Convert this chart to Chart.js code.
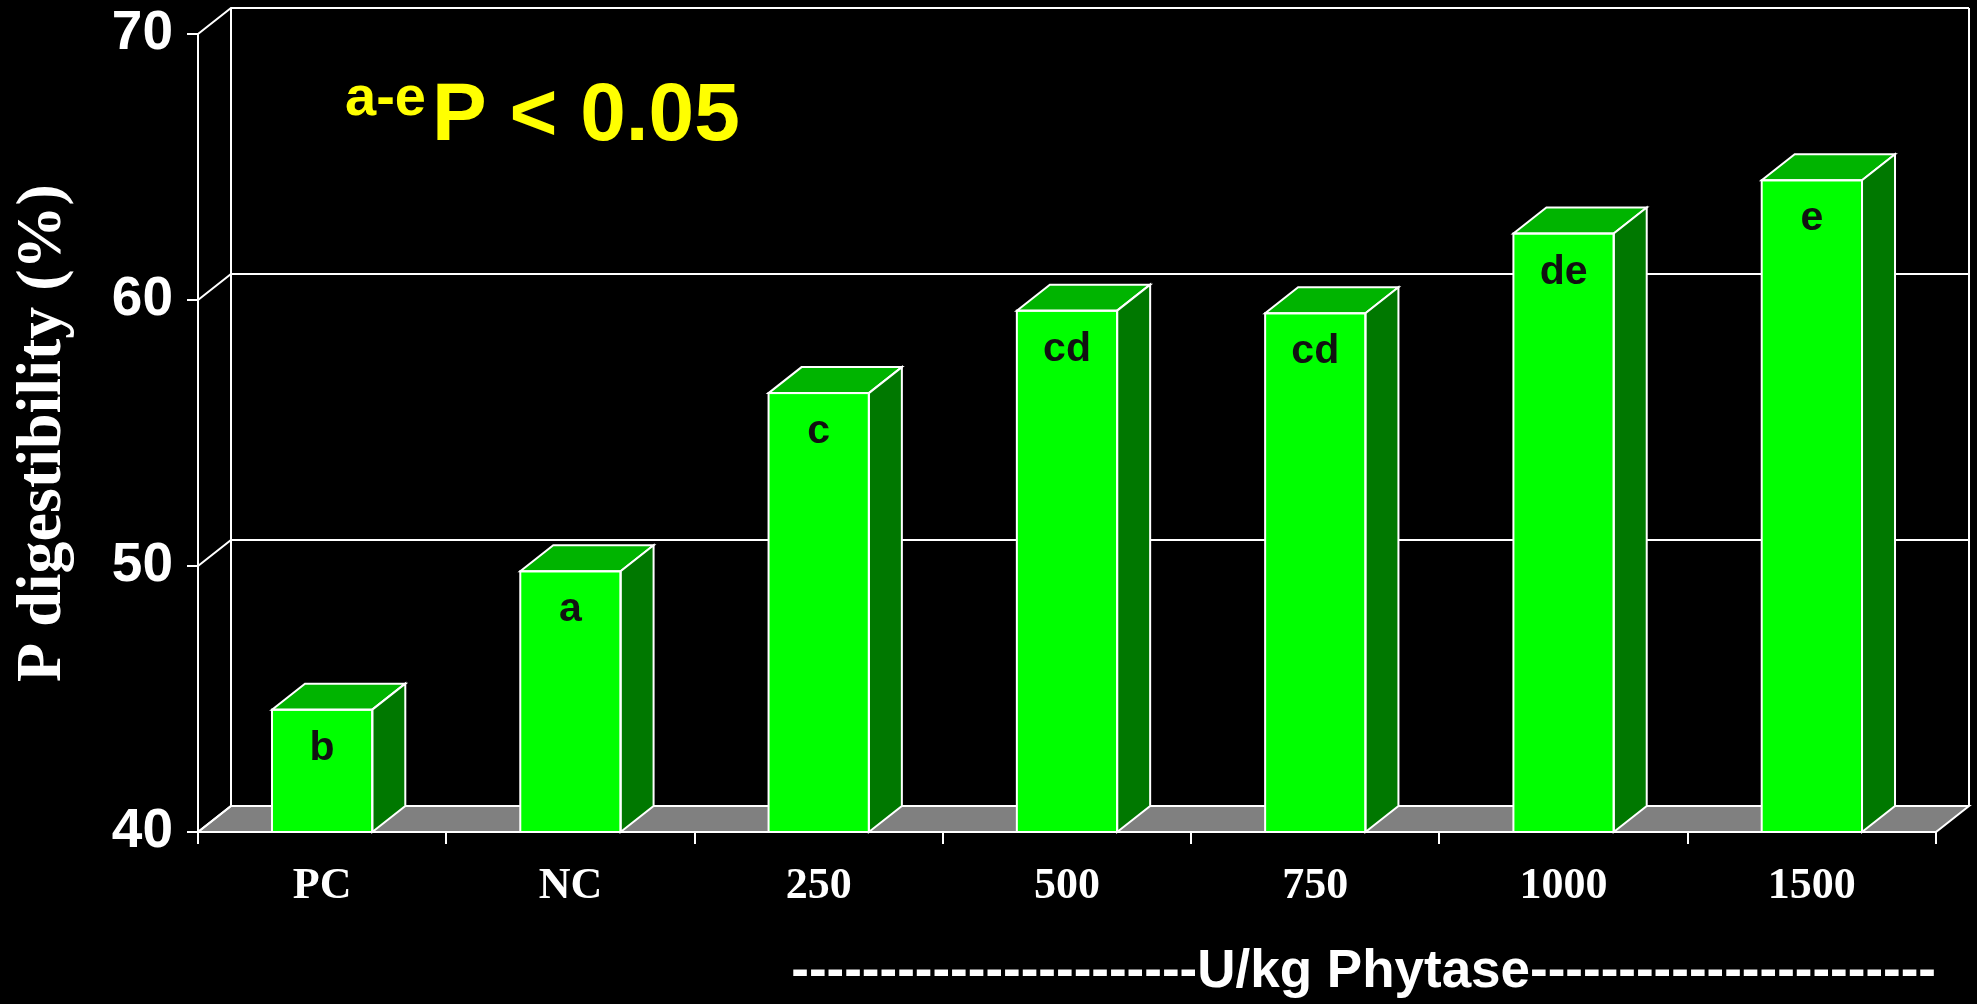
<!DOCTYPE html>
<html><head><meta charset="utf-8">
<script src="https://cdn.jsdelivr.net/npm/chart.js@4.4.1/dist/chart.umd.min.js"></script>
<style>html,body{margin:0;padding:0;background:#000;overflow:hidden}canvas{display:block;background:#000}</style>
</head><body>
<canvas id="c" width="1977" height="1004"></canvas>
<script>
const categories = ['PC', 'NC', '250', '500', '750', '1000', '1500'];
const digestibility = [44.6, 49.8, 56.5, 59.6, 59.5, 62.5, 64.5];
const significance = ['b', 'a', 'c', 'cd', 'cd', 'de', 'e'];
const yTicks = [40, 50, 60, 70];
const yTitle = 'P digestibility (%)';
const xTitle = '-'.repeat(23) + 'U/kg Phytase' + '-'.repeat(23);
const noteSup = 'a-e';
const noteMain = 'P < 0.05';

const DX = 33, DY = 26;

const threeD = {
  id: 'threeD',
  beforeDatasetsDraw(chart) {
    const {ctx, chartArea: a, scales: {y}} = chart;
    const yb = y.getPixelForValue(y.min);
    const yt = y.getPixelForValue(y.max);
    ctx.save();
    ctx.fillStyle = '#808080';
    ctx.strokeStyle = '#ffffff';
    ctx.lineWidth = 2;
    ctx.beginPath();
    ctx.moveTo(a.left, yb); ctx.lineTo(a.right, yb);
    ctx.lineTo(a.right + DX, yb - DY); ctx.lineTo(a.left + DX, yb - DY);
    ctx.closePath(); ctx.fill(); ctx.stroke();
    y.ticks.forEach(t => {
      const py = y.getPixelForValue(t.value);
      ctx.beginPath();
      ctx.moveTo(a.left, py); ctx.lineTo(a.left + DX, py - DY); ctx.lineTo(a.right + DX, py - DY);
      ctx.stroke();
    });
    ctx.beginPath();
    ctx.moveTo(a.left + DX, yt - DY); ctx.lineTo(a.left + DX, yb - DY);
    ctx.moveTo(a.right + DX, yt - DY); ctx.lineTo(a.right + DX, yb - DY);
    ctx.moveTo(a.left, yt); ctx.lineTo(a.left, yb);
    ctx.stroke();
    ctx.restore();
  },
  afterDatasetsDraw(chart) {
    const {ctx, scales: {y: ys}} = chart;
    const floor = ys.getPixelForValue(ys.min);
    const meta = chart.getDatasetMeta(0);
    ctx.save();
    ctx.strokeStyle = '#ffffff';
    ctx.lineWidth = 2;
    ctx.lineJoin = 'miter';
    meta.data.forEach((bar, i) => {
      const {x, y, width} = bar.getProps(['x', 'y', 'width'], true);
      const base = floor;
      const l = x - width / 2, r = x + width / 2;
      ctx.fillStyle = '#00b400';
      ctx.beginPath();
      ctx.moveTo(l, y); ctx.lineTo(r, y); ctx.lineTo(r + DX, y - DY); ctx.lineTo(l + DX, y - DY);
      ctx.closePath(); ctx.fill(); ctx.stroke();
      ctx.fillStyle = '#007800';
      ctx.beginPath();
      ctx.moveTo(r, y); ctx.lineTo(r + DX, y - DY); ctx.lineTo(r + DX, base - DY); ctx.lineTo(r, base);
      ctx.closePath(); ctx.fill(); ctx.stroke();
      ctx.strokeRect(l, y, width, base - y);
      ctx.fillStyle = '#111111';
      ctx.font = 'bold 41px "Liberation Sans", Arial, sans-serif';
      ctx.textAlign = 'center';
      ctx.textBaseline = 'alphabetic';
      ctx.fillText(significance[i], x, y + 50);
    });
    ctx.restore();
  },
  afterDraw(chart) {
    const {ctx} = chart;
    ctx.save();
    ctx.fillStyle = '#ffff00';
    ctx.textAlign = 'left';
    ctx.textBaseline = 'alphabetic';
    ctx.font = 'bold 56px "Liberation Sans", Arial, sans-serif';
    ctx.fillText(noteSup, 345, 115);
    ctx.font = 'bold 82px "Liberation Sans", Arial, sans-serif';
    ctx.fillText(noteMain, 432, 140);
    ctx.restore();
  }
};

new Chart(document.getElementById('c').getContext('2d'), {
  type: 'bar',
  data: {
    labels: categories,
    datasets: [{
      data: digestibility,
      base: 40,
      backgroundColor: '#00ff00',
      borderColor: '#ffffff',
      borderWidth: 0,
      barPercentage: 0.404,
      categoryPercentage: 1
    }]
  },
  options: {
    responsive: false,
    animation: false,
    devicePixelRatio: 1,
    layout: {padding: {left: 0, right: 41, top: 34, bottom: 0}},
    plugins: {legend: {display: false}, tooltip: {enabled: false}},
    scales: {
      x: {
        grid: {display: true, drawOnChartArea: false, drawTicks: true, tickLength: 12, color: '#ffffff', lineWidth: 2, offset: true},
        border: {display: true, color: '#ffffff', width: 2},
        ticks: {color: '#ffffff', font: {family: '"Liberation Serif", "Times New Roman", serif', size: 44, weight: 'bold'}, padding: 16, maxRotation: 0},
        title: {display: true, text: xTitle, align: 'end', color: '#ffffff',
                font: {family: '"Liberation Sans", Arial, sans-serif', size: 53, weight: 'bold'}, padding: {top: 0, bottom: 0}},
        afterFit(s) { s.height = 172; s.paddingLeft = 0; s.paddingRight = 0; }
      },
      y: {
        min: 40, max: 70,
        afterBuildTicks(s) { s.ticks = yTicks.map(v => ({value: v})); },
        ticks: {color: '#ffffff', font: {family: '"Liberation Sans", Arial, sans-serif', size: 55, weight: 'bold'}, padding: 14},
        grid: {drawOnChartArea: false, drawTicks: true, tickLength: 11, color: '#ffffff', lineWidth: 2},
        border: {display: true, color: '#ffffff', width: 2},
        title: {display: true, text: yTitle, color: '#ffffff',
                font: {family: '"Liberation Serif", "Times New Roman", serif', size: 64, weight: 'bold'}, padding: {top: 5, bottom: 0}},
        afterFit(s) { s.width = 198; s.paddingTop = 0; s.paddingBottom = 0; }
      }
    }
  },
  plugins: [threeD]
});
</script>
</body></html>
